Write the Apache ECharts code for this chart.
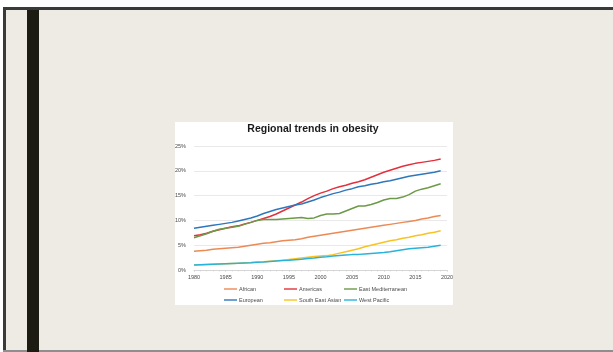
<!DOCTYPE html>
<html>
<head>
<meta charset="utf-8">
<script src="https://cdn.jsdelivr.net/npm/echarts@6/dist/echarts.min.js"></script>
<style>
  html, body { margin: 0; padding: 0; background: #ffffff; }
  #chart { width: 613px; height: 352px; }
</style>
</head>
<body>
<div id="chart"></div>
<script>
const titleText = "Regional trends in obesity";
const years = [1980,1981,1982,1983,1984,1985,1986,1987,1988,1989,
               1990,1991,1992,1993,1994,1995,1996,1997,1998,1999,
               2000,2001,2002,2003,2004,2005,2006,2007,2008,2009,
               2010,2011,2012,2013,2014,2015,2016,2017,2018,2019];
const seriesNames = ["African","Americas","East Mediterranean","European","South East Asian","West Pacific"];
const african = [3.8,3.9,4.0,4.2,4.3,4.4,4.5,4.6,4.8,5.0,
                 5.2,5.4,5.5,5.7,5.9,6.0,6.1,6.3,6.6,6.8,
                 7.0,7.2,7.4,7.6,7.8,8.0,8.2,8.4,8.6,8.8,
                 9.0,9.2,9.4,9.6,9.8,10.0,10.3,10.5,10.8,11.0];
const americas = [6.9,7.1,7.4,7.8,8.1,8.4,8.7,8.9,9.3,9.6,
                  10.0,10.4,10.8,11.3,11.9,12.5,13.1,13.7,14.4,15.0,
                  15.5,15.9,16.4,16.8,17.1,17.5,17.8,18.2,18.7,19.2,
                  19.7,20.1,20.5,20.9,21.2,21.5,21.7,21.9,22.1,22.4];
const eastMed = [6.5,6.9,7.3,7.8,8.2,8.4,8.6,8.8,9.2,9.6,
                 10.0,10.2,10.2,10.2,10.3,10.4,10.5,10.6,10.4,10.5,
                 11.0,11.3,11.3,11.4,11.9,12.4,12.9,12.9,13.2,13.6,
                 14.1,14.4,14.4,14.7,15.2,15.9,16.3,16.6,17.0,17.4];
const european = [8.4,8.6,8.8,9.0,9.2,9.4,9.6,9.9,10.2,10.5,
                  10.9,11.4,11.8,12.2,12.5,12.8,13.1,13.3,13.7,14.1,
                  14.6,15.0,15.4,15.7,16.1,16.4,16.8,17.0,17.3,17.5,
                  17.8,18.0,18.3,18.6,18.9,19.1,19.3,19.5,19.7,20.0];
const southEastAsian = [1.0,1.05,1.1,1.15,1.2,1.25,1.3,1.35,1.45,1.5,
                        1.6,1.65,1.75,1.85,1.95,2.1,2.25,2.4,2.55,2.7,
                        2.8,2.9,3.1,3.4,3.7,4.0,4.3,4.7,5.0,5.3,
                        5.6,5.9,6.1,6.4,6.6,6.9,7.1,7.4,7.6,7.9];
const westPacific = [1.0,1.05,1.1,1.15,1.2,1.25,1.3,1.35,1.4,1.45,
                     1.55,1.6,1.7,1.8,1.9,1.95,2.05,2.15,2.3,2.4,
                     2.55,2.65,2.8,2.9,3.0,3.1,3.15,3.25,3.35,3.45,
                     3.55,3.7,3.9,4.1,4.3,4.4,4.5,4.6,4.8,5.0];
const yTickValues = [0,5,10,15,20,25];
const xTickValues = [1980,1985,1990,1995,2000,2005,2010,2015,2020];

const allValues = [african, americas, eastMed, european, southEastAsian, westPacific];
const colors = ["#EC8A55","#E2313C","#6C9A48","#2E77BD","#F8C322","#29B3DB"];

const chart = echarts.init(document.getElementById('chart'), null, {renderer: 'canvas'});

const legendPos = [
  {left: 224, top: 286}, {left: 284, top: 286}, {left: 344, top: 286},
  {left: 224, top: 297}, {left: 284, top: 297}, {left: 344, top: 297}
];

const option = {
  animation: false,
  backgroundColor: '#ffffff',
  graphic: {
    elements: [
      {type: 'rect', z: -100, shape: {x: 3, y: 7, width: 610, height: 345}, style: {fill: '#EEEBE4'}},
      {type: 'rect', z: -99, shape: {x: 3, y: 7, width: 610, height: 3}, style: {fill: '#3A3A3A'}},
      {type: 'rect', z: -99, shape: {x: 3, y: 7, width: 3, height: 345}, style: {fill: '#3A3A3A'}},
      {type: 'rect', z: -99, shape: {x: 3, y: 350, width: 610, height: 2}, style: {fill: '#8E8E8E'}},
      {type: 'rect', z: -99, shape: {x: 27, y: 10, width: 12, height: 342}, style: {fill: '#1C1C12'}},
      {type: 'rect', z: -98, shape: {x: 175, y: 122, width: 278, height: 183}, style: {fill: '#FFFFFF'}}
    ]
  },
  title: {
    text: titleText,
    left: 313,
    top: 124,
    textAlign: 'center',
    padding: 0,
    textStyle: {
      fontFamily: '"Liberation Sans Narrow", "Liberation Sans", sans-serif',
      fontWeight: 'bold',
      fontSize: 10.5,
      color: '#1a1a1a'
    }
  },
  legend: seriesNames.map((n, i) => ({
    data: [n],
    left: legendPos[i].left,
    top: legendPos[i].top,
    padding: 0,
    icon: 'rect',
    itemWidth: 13,
    itemHeight: 1.4,
    selectedMode: false,
    textStyle: {fontSize: 5.5, color: '#4a4a4a', fontFamily: '"Liberation Sans Narrow", "Liberation Sans", sans-serif', padding: [0,0,0,-3]}
  })),
  grid: {left: 194, right: 166, top: 146, bottom: 82, containLabel: false},
  xAxis: {
    type: 'value',
    min: xTickValues[0],
    max: xTickValues[xTickValues.length - 1],
    interval: 5,
    axisLine: {show: true, lineStyle: {color: '#D0D0D0', width: 0.8}},
    axisTick: {show: true, length: 2, lineStyle: {color: '#D0D0D0', width: 0.6}},
    minorTick: {show: true, splitNumber: 5, length: 1.5, lineStyle: {color: '#D0D0D0', width: 0.6}},
    splitLine: {show: false},
    axisLabel: {
      fontSize: 5.5, color: '#4a4a4a', margin: 4,
      fontFamily: '"Liberation Sans Narrow", "Liberation Sans", sans-serif',
      formatter: v => String(v)
    }
  },
  yAxis: {
    type: 'value',
    min: yTickValues[0],
    max: yTickValues[yTickValues.length - 1],
    interval: 5,
    axisLine: {show: false},
    axisTick: {show: false},
    splitLine: {lineStyle: {color: '#E3E3E3', width: 0.8}},
    axisLabel: {
      fontSize: 5.5, color: '#4a4a4a', margin: 8,
      fontFamily: '"Liberation Sans Narrow", "Liberation Sans", sans-serif',
      formatter: '{value}%'
    }
  },
  series: seriesNames.map((n, i) => ({
    name: n,
    type: 'line',
    data: years.map((y, j) => [y, allValues[i][j]]),
    showSymbol: false,
    symbol: 'none',
    smooth: false,
    color: colors[i],
    lineStyle: {width: 1.5, color: colors[i]}
  }))
};
chart.setOption(option);
</script>
</body>
</html>
